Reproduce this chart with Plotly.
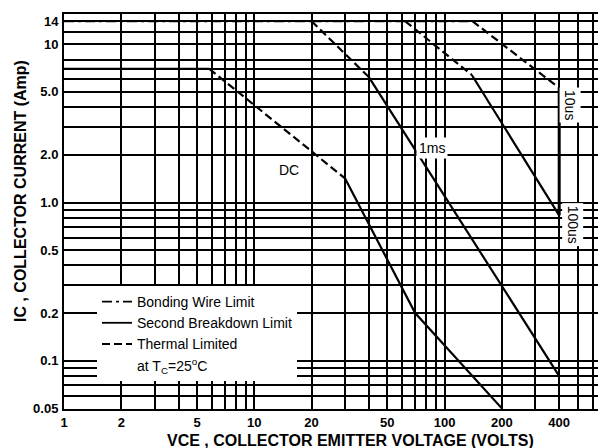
import math
import plotly.graph_objects as go

# ---------------- data ----------------
x_ticks = [1, 2, 5, 10, 20, 50, 100, 200, 400]
x_ticktext = ["1", "2", "5", "10", "20", "50", "100", "200", "400"]
x_minor = [3, 4, 6, 7, 8, 9, 30, 40, 60, 70, 80, 90, 300, 500, 600]

y_ticks = [0.05, 0.1, 0.2, 0.5, 1, 2, 5, 10, 14]
y_ticktext = ["0.05", "0.1", "0.2", "0.5", "1.0", "2.0", "5.0", "10", "14"]
y_minor = [0.06, 0.07, 0.08, 0.09, 0.3, 0.4, 0.6, 0.7, 0.8, 0.9, 3, 4, 6, 7, 8, 12]

# curves: voltage points, current points, style of each segment
# styles: bw = bonding wire limit, sb = second breakdown limit, th = thermal limited
dc_v = [1, 5.8, 30, 70, 200]
dc_i = [7, 7, 1.42, 0.2, 0.05]
dc_seg = ["sb", "th", "sb", "sb"]

ms1_v = [1, 20, 40, 400]
ms1_i = [14, 14, 6.2, 0.08]
ms1_seg = ["bw", "th", "sb"]

us100_v = [62, 139, 400]
us100_i = [14, 6.4, 0.83]
us100_seg = ["th", "sb"]

us10_v = [20, 140, 400, 400]
us10_i = [14, 14, 5.3, 0.83]
us10_seg = ["bw", "th", "sb"]

legend_names = ["Bonding Wire Limit", "Second Breakdown Limit", "Thermal Limited"]
legend_note = "at T<sub>C</sub>=25<sup>o</sup>C"

# label positions (V, A)
labels = [("DC", 15.2, 1.6, 0), ("1ms", 86, 2.2, 0), ("10us", 456, 4.13, 90), ("100us", 470, 0.73, 90)]

# ---------------- styles ----------------
DASH = {"bw": "10px,4px,3px,4px", "sb": "solid", "th": "8px,4px"}
STYLE_KEYS = ["bw", "sb", "th"]
FONT = "Liberation Sans, Arial, sans-serif"

fig = go.Figure()


def add_curve(v, i, seg, width=2.2):
    # merge consecutive segments with the same style
    start = 0
    for k in range(1, len(seg) + 1):
        if k == len(seg) or seg[k] != seg[start]:
            xs = v[start:k + 1]
            ys = i[start:k + 1]
            w = width
            if len(xs) == 2 and xs[0] == xs[1]:
                w = 3
            fig.add_trace(go.Scatter(x=xs, y=ys, mode="lines", showlegend=False,
                                     line=dict(color="black", width=w, dash=DASH[seg[start]]),
                                     hoverinfo="skip"))
            start = k


add_curve(dc_v, dc_i, dc_seg)
add_curve(ms1_v, ms1_i, ms1_seg)
add_curve(us100_v, us100_i, us100_seg)
add_curve(us10_v, us10_i, us10_seg)

# legend entries
for key, name in zip(STYLE_KEYS, legend_names):
    fig.add_trace(go.Scatter(x=[None], y=[None], mode="lines", name=name,
                             line=dict(color="black", width=1.8, dash=DASH[key])))
fig.add_trace(go.Scatter(x=[None], y=[None], mode="lines", name=legend_note,
                         line=dict(color="rgba(0,0,0,0)", width=1)))

for text, xv, yv, ang in labels:
    fig.add_annotation(x=math.log10(xv), y=math.log10(yv), xref="x", yref="y",
                       text=text, showarrow=False, textangle=ang,
                       font=dict(family=FONT, size=14, color="black"),
                       bgcolor="white", borderpad=2)

# axis titles (plot area spans page pixels x 64..606, y 14..409)
fig.add_annotation(x=(350 - 64) / 542, y=(409 - 440) / 395, xref="paper", yref="paper",
                   text="<b>VCE , COLLECTOR EMITTER VOLTAGE (VOLTS)</b>", showarrow=False,
                   font=dict(family=FONT, size=16, color="black"), yanchor="middle")
fig.add_annotation(x=(21 - 64) / 542, y=(409 - 191) / 395, xref="paper", yref="paper",
                   text="<b>IC , COLLECTOR CURRENT (Amp)</b>", showarrow=False, textangle=-90,
                   font=dict(family=FONT, size=16, color="black"), xanchor="center")

fig.update_xaxes(type="log", range=[0, 2.848], tickvals=x_ticks,
                 ticktext=["<b>%s</b>" % t for t in x_ticktext],
                 showgrid=True, gridcolor="black", gridwidth=1.5,
                 minor=dict(tickvals=x_minor, showgrid=True, gridcolor="black", gridwidth=1.5),
                 showline=True, linecolor="black", linewidth=2, mirror=True,
                 ticks="", ticklabelstandoff=0, zeroline=False,
                 tickfont=dict(family=FONT, size=13, color="black"))
fig.update_yaxes(type="log", range=[-1.305, 1.1915], tickvals=y_ticks,
                 ticktext=["<b>%s</b>" % t for t in y_ticktext],
                 showgrid=True, gridcolor="black", gridwidth=1.5,
                 minor=dict(tickvals=y_minor, showgrid=True, gridcolor="black", gridwidth=1.5),
                 showline=True, linecolor="black", linewidth=2, mirror=False,
                 ticks="", ticklabelstandoff=1, zeroline=False,
                 tickfont=dict(family=FONT, size=13, color="black"))

# page body has an 8px margin, so the figure is 8px smaller and offsets compensate
fig.update_layout(
    width=598, height=440,
    margin=dict(l=56, r=0, t=6, b=39),
    paper_bgcolor="white", plot_bgcolor="white",
    showlegend=True,
    legend=dict(x=(97 - 64) / 542, y=(409 - 286) / 395, xanchor="left", yanchor="top",
                bgcolor="white", borderwidth=0, itemwidth=30, traceorder="normal",
                font=dict(family=FONT, size=14, color="black"),
                tracegroupgap=0, itemclick=False),
)

fig.write_html("out.html")
